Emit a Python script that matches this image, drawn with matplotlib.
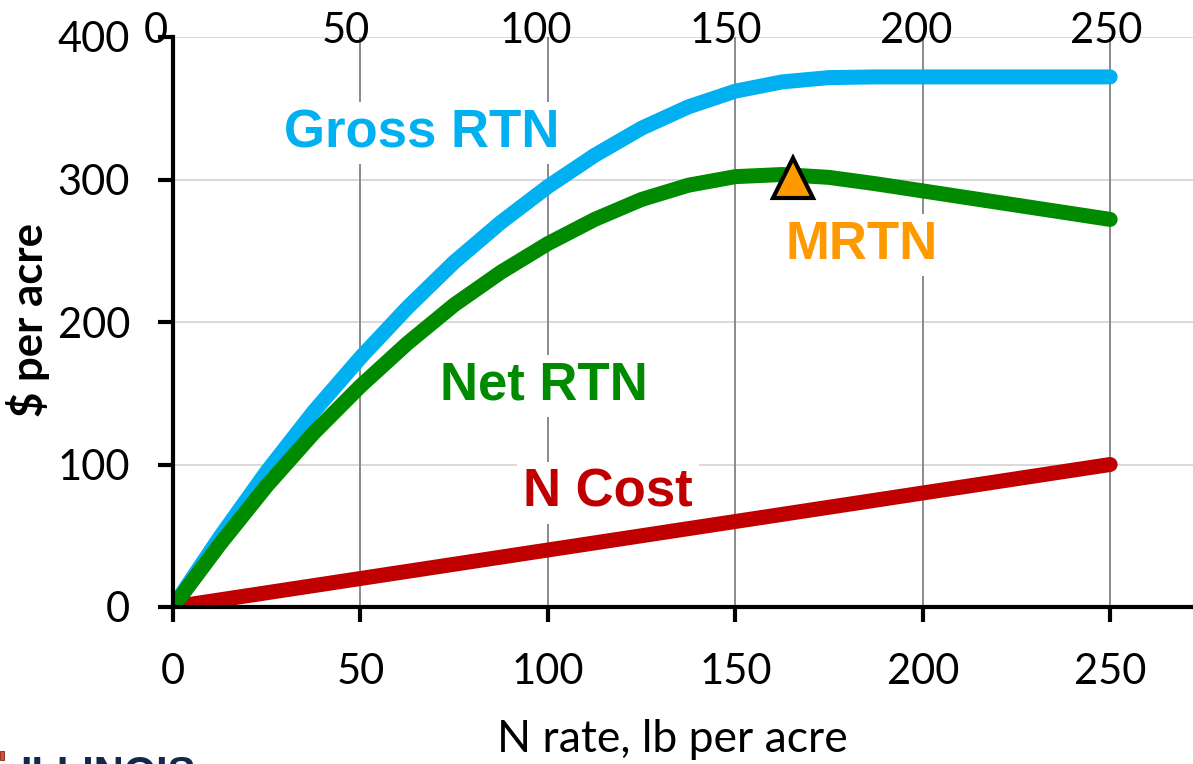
import matplotlib
matplotlib.use("Agg")
import matplotlib.pyplot as plt
from matplotlib.patches import Rectangle

# N rate (lb N per acre) and returns ($ per acre)
n_rate = [0, 12.5, 25, 37.5, 50, 62.5, 75, 87.5, 100, 112.5, 125, 137.5,
          150, 162.5, 175, 187.5, 200, 225, 250]
gross_rtn = [0, 49, 95, 137, 175, 210, 242, 270, 295, 317, 336, 351,
             362, 368.5, 371.5, 372, 372, 372, 372]
net_rtn = [0, 44, 85, 122, 155, 185, 212, 235, 255, 272, 286, 296,
           302, 303.5, 301.5, 297, 292, 282, 272]
cost_rate = [0, 250]
n_cost = [0, 100]
mrtn_rate = 165.4
mrtn_value = 301

x_ticks = [0, 50, 100, 150, 200, 250]
y_ticks = [0, 100, 200, 300, 400]

W, H = 1193, 764
fig = plt.figure(figsize=(W / 100, H / 100), dpi=100)
fig.patch.set_facecolor("white")


def fx(px):
    return px / W


def fy(py):
    return 1 - py / H


ax = fig.add_axes([fx(173), fy(607), fx(1193) - fx(173), fy(37) - fy(607)])
ax.set_xlim(0, 272.1)
ax.set_ylim(0, 400)

tick_font = dict(family="Lato", size=30)

# grid: light horizontal, darker vertical
for y in y_ticks[1:]:
    ax.axhline(y, color="#d9d9d9", lw=1.4, zorder=1)
for x in x_ticks[1:]:
    ax.axvline(x, color="#8a8a8a", lw=1.4, zorder=1)

for side in ("top", "right"):
    ax.spines[side].set_visible(False)
for side in ("left", "bottom"):
    ax.spines[side].set_linewidth(3)
    ax.spines[side].set_color("black")
    ax.spines[side].set_zorder(6)

ax.set_xticks(x_ticks)
ax.set_yticks(y_ticks)
ax.set_xticklabels([str(v) for v in x_ticks], fontdict=tick_font)
ax.set_yticklabels([str(v) for v in y_ticks], fontdict=tick_font)
ax.tick_params(axis="x", length=11, width=3, direction="out", pad=22)
ax.tick_params(axis="y", length=11, width=3, direction="out", pad=20)

# secondary scale printed along the top edge
for v in x_ticks:
    ax.text((-17 + v * 3.8) / 1020, (607 - 43) / 570, str(v),
            transform=ax.transAxes, ha="center", va="baseline",
            fontfamily="Lato", fontsize=30, clip_on=False)

lw = 10.8
ax.plot(n_rate, gross_rtn, color="#00b0f0", lw=lw, solid_capstyle="round",
        solid_joinstyle="round", zorder=5)
ax.plot(cost_rate, n_cost, color="#c00000", lw=lw, solid_capstyle="round",
        zorder=5)
ax.plot(n_rate, net_rtn, color="#008a00", lw=lw, solid_capstyle="round",
        solid_joinstyle="round", zorder=5)
ax.plot([mrtn_rate], [mrtn_value], marker="^", ms=29, mfc="#ff9900",
        mec="black", mew=3, ls="none", zorder=7)

label_font = dict(family="Liberation Sans", weight="bold", size=38)
box = dict(facecolor="white", edgecolor="none", boxstyle="square,pad=0.12")
ax.text(66.4, 322.8, "Gross RTN", color="#00b0f0", ha="center",
        va="baseline", bbox=box, zorder=4, fontdict=label_font)
ax.text(99.0, 145.3, "Net RTN", color="#008a00", ha="center",
        va="baseline", bbox=box, zorder=4, fontdict=label_font)
ax.text(116.0, 70.2, "N Cost", color="#c00000", ha="center",
        va="baseline", bbox=box, zorder=4, fontdict=label_font)
ax.text(183.8, 244.2, "MRTN", color="#ff9900", ha="center",
        va="baseline", bbox=box, zorder=4, fontdict=label_font)

fig.text(fx(672), fy(740), "N rate, lb per acre", ha="center", va="center",
         fontfamily="Lato", fontsize=32)
fig.text(fx(28), fy(320), "$ per acre", ha="center", va="center",
         rotation=90, fontfamily="Lato", fontweight="bold", fontsize=31.5)

# university wordmark at the bottom-left corner
fig.text(fx(20), fy(755), "ILLINOIS", ha="left", va="top",
         color="#13294b", fontfamily="Liberation Sans", fontweight="bold",
         fontsize=30)
fig.patches.append(Rectangle((0, fy(760)), fx(4), fy(751) - fy(760),
                             transform=fig.transFigure, facecolor="#e84a27",
                             edgecolor="#7a2a1a", lw=0.6))

fig.savefig("out.png", dpi=100)
